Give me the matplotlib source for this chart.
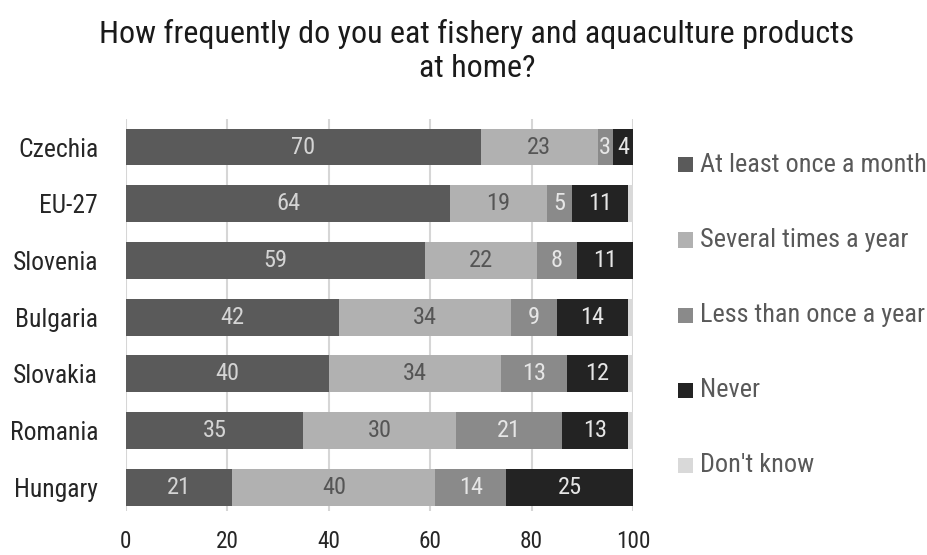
import matplotlib
matplotlib.use("Agg")
import matplotlib.pyplot as plt
from matplotlib import font_manager as fm
from matplotlib.font_manager import FontProperties
from matplotlib.patches import Rectangle
import numpy as np

countries = ["Czechia", "EU-27", "Slovenia", "Bulgaria", "Slovakia", "Romania", "Hungary"]
categories = ["At least once a month", "Several times a year", "Less than once a year", "Never", "Don't know"]
at_least_monthly = [70, 64, 59, 42, 40, 35, 21]
several_year = [23, 19, 22, 34, 34, 30, 40]
less_than_year = [3, 5, 8, 9, 13, 21, 14]
never = [4, 11, 11, 14, 12, 13, 25]
dont_know = [0, 1, 0, 1, 1, 1, 0]
xticks = [0, 20, 40, 60, 80, 100]
title = "How frequently do you eat fishery and aquaculture products\nat home?"

series = [at_least_monthly, several_year, less_than_year, never, dont_know]
colors = ['#5a5a5a', '#b1b1b1', '#8a8a8a', '#232323', '#d9d9d9']
text_colors = ['#d4d4d4', '#555555', '#e6e6e6', '#e6e6e6', None]

# pick a condensed font if available
bad = ('Bold', 'Italic', 'Oblique', 'Light', 'Thin', 'Medium', 'Semi', 'Black', 'Extra', 'Heavy')
prefs = ['RobotoCondensed', 'Roboto_Condensed', 'Roboto-Condensed', 'LiberationSansNarrow',
         'LiberationSans-Narrow', 'DejaVuSansCondensed', 'OpenSans_Condensed', 'OpenSansCondensed',
         'Condensed', 'Narrow']
chosen = None
for p in prefs:
    for f in fm.fontManager.ttflist:
        fn = f.fname.split('/')[-1]
        if p in fn and not any(b in fn for b in bad):
            chosen = f.fname
            break
    if chosen:
        break
if chosen:
    FP = lambda: FontProperties(fname=chosen)
else:
    FP = lambda: FontProperties(family='Roboto')

fig = plt.figure(figsize=(9.28, 5.55), dpi=100)
renderer = fig.canvas.get_renderer()

def fit(s, target_px):
    t = fig.text(0, 0, s, fontproperties=FP(), fontsize=20)
    w = t.get_window_extent(renderer).width
    t.remove()
    return 20.0 * target_px / w

fs_title = fit(title.split("\n")[0], 755)
fs_ylab = fit("Czechia", 80)
fs_tick = fit("100", 30) * 1.15
fs_leg = fit(categories[0], 226)
fs_bar = fit("23", 22) * 1.1

W, H = 928.0, 555.0
ax_top, ax_bot = 119.0, 511.0
ax = fig.add_axes([126 / W, 1 - ax_bot / H, (633 - 126) / W, (ax_bot - ax_top) / H])

y = np.arange(len(countries))
left = np.zeros(len(countries))
for vals, col, tc, name in zip(series, colors, text_colors, categories):
    v = np.array(vals, dtype=float)
    bars = ax.barh(y, v, left=left, height=0.65, color=col, label=name, zorder=3)
    if tc is not None:
        for b, val in zip(bars, vals):
            if val > 0:
                ax.text(b.get_x() + b.get_width() / 2, b.get_y() + b.get_height() / 2,
                        str(val), ha='center', va='center', color=tc,
                        fontproperties=FP(), fontsize=fs_bar, zorder=4)
    left += v

ax.set_xlim(0, 100)
ax.set_ylim(6.42, -0.494)
ax.set_yticks(y)
ax.set_yticklabels(countries)
for t in ax.get_yticklabels():
    t.set_fontproperties(FP()); t.set_fontsize(fs_ylab); t.set_color('#262626')
ax.set_xticks(xticks)
ax.set_xticklabels([str(t) for t in xticks])
for t in ax.get_xticklabels():
    t.set_fontproperties(FP()); t.set_fontsize(fs_tick); t.set_color('#262626')
ax.xaxis.grid(True, color='#d6d6d6', linewidth=1.5, zorder=0)
ax.tick_params(axis='x', length=0, pad=14)
ax.tick_params(axis='y', length=0, pad=20)
for s in ax.spines.values():
    s.set_visible(False)

# legend (manual, positioned as in reference)
leg_y = [165, 240, 315, 390, 465]
for cy, col, name in zip(leg_y, colors, categories):
    fig.add_artist(Rectangle((678 / W, 1 - (cy + 7.5) / H), 15 / W, 15 / H,
                             transform=fig.transFigure, facecolor=col, edgecolor='none'))
    fig.text(700 / W, 1 - cy / H, name, ha='left', va='center', color='#595959',
             fontproperties=FP(), fontsize=fs_leg)

fig.text(477 / W, 1 - 51 / H, title, ha='center', va='center', color='#1a1a1a',
         fontproperties=FP(), fontsize=fs_title, linespacing=1.25)

fig.savefig("out.png", dpi=100)
